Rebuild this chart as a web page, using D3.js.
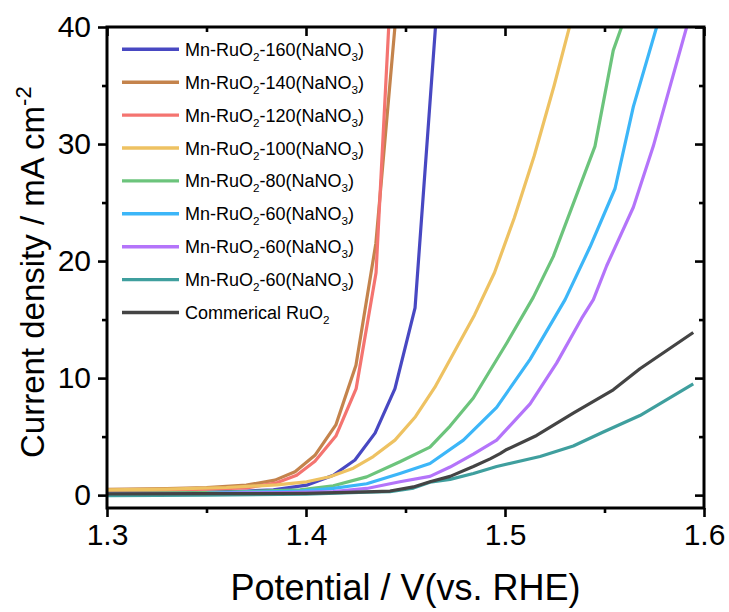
<!DOCTYPE html>
<html>
<head>
<meta charset="utf-8">
<script src="https://cdn.jsdelivr.net/npm/d3@7/dist/d3.min.js"></script>
<style>
  html, body { margin: 0; padding: 0; background: #ffffff; }
  svg { display: block; }
  text { font-family: "Liberation Sans", Arial, Helvetica, sans-serif; fill: #000; }
</style>
</head>
<body>
<script>
// ---------- data (potential V vs RHE, current density mA cm^-2) ----------
const mn160 = [[1.30,0.2],[1.34,0.22],[1.37,0.35],[1.3836,0.45],[1.4003,0.85],[1.4137,1.7],[1.4246,3.0],[1.4347,5.3],[1.4447,9.1],[1.4548,16.0],[1.4655,41.0]];
const mn140 = [[1.30,0.49],[1.33,0.55],[1.35,0.65],[1.37,0.85],[1.3844,1.28],[1.3945,2.0],[1.4045,3.4],[1.4150,6.0],[1.4251,11.1],[1.4351,21.5],[1.4451,40.8]];
const mn120 = [[1.30,0.36],[1.33,0.42],[1.35,0.5],[1.37,0.62],[1.3853,1.05],[1.3953,1.7],[1.4045,2.9],[1.4150,5.05],[1.4252,9.1],[1.4352,19.0],[1.4452,52.0]];
const mn100 = [[1.30,0.45],[1.33,0.52],[1.36,0.65],[1.3853,0.88],[1.4003,1.14],[1.412,1.57],[1.4238,2.3],[1.4338,3.3],[1.4447,4.7],[1.455,6.7],[1.4647,9.2],[1.4747,12.3],[1.4847,15.4],[1.4947,19.0],[1.5047,23.7],[1.5147,29.0],[1.5247,35.0],[1.5347,41.5]];
const mn80  = [[1.30,0.15],[1.35,0.22],[1.37,0.3],[1.397,0.45],[1.4137,0.8],[1.4305,1.56],[1.4472,2.85],[1.4623,4.1],[1.4724,5.9],[1.4841,8.3],[1.5009,13.0],[1.5142,16.9],[1.5243,20.4],[1.5452,29.8],[1.5544,38.0],[1.5640,42.6]];
const mn60a = [[1.30,0.1],[1.35,0.15],[1.37,0.25],[1.397,0.35],[1.4137,0.57],[1.4305,0.97],[1.4472,1.85],[1.4623,2.7],[1.4791,4.7],[1.4958,7.5],[1.5126,11.6],[1.5302,16.7],[1.5427,21.2],[1.5553,26.2],[1.5645,33.2],[1.5762,40.0],[1.5785,41.3]];
const mn60b = [[1.30,0.08],[1.35,0.12],[1.37,0.2],[1.39,0.22],[1.4137,0.3],[1.4305,0.57],[1.4472,1.14],[1.4623,1.6],[1.4724,2.4],[1.4841,3.5],[1.4958,4.7],[1.5126,7.8],[1.5260,11.3],[1.5385,15.1],[1.5444,16.7],[1.5511,19.6],[1.5645,24.6],[1.5745,29.8],[1.5829,34.9],[1.5913,40.0],[1.5940,41.5]];
const mn60c = [[1.30,-0.05],[1.35,0.0],[1.40,0.08],[1.4305,0.25],[1.4422,0.3],[1.454,0.6],[1.4623,1.1],[1.4724,1.35],[1.4841,1.85],[1.4958,2.45],[1.5176,3.3],[1.5343,4.2],[1.5494,5.4],[1.5678,6.8],[1.5946,9.5]];
const ruo2  = [[1.30,0.1],[1.35,0.12],[1.40,0.15],[1.4305,0.28],[1.4422,0.35],[1.454,0.7],[1.4623,1.14],[1.4724,1.6],[1.4841,2.45],[1.4925,3.1],[1.4975,3.55],[1.5009,3.9],[1.5159,5.1],[1.5343,7.0],[1.5544,9.0],[1.5678,10.8],[1.5946,13.9]];

const seriesData   = [mn160, mn140, mn120, mn100, mn80, mn60a, mn60b, mn60c, ruo2];
const seriesNames  = ["Mn-RuO_2-160(NaNO_3)", "Mn-RuO_2-140(NaNO_3)", "Mn-RuO_2-120(NaNO_3)",
                      "Mn-RuO_2-100(NaNO_3)", "Mn-RuO_2-80(NaNO_3)", "Mn-RuO_2-60(NaNO_3)",
                      "Mn-RuO_2-60(NaNO_3)", "Mn-RuO_2-60(NaNO_3)", "Commerical RuO_2"];
const seriesColors = ["#4848c2", "#c4834c", "#f47470", "#eec262", "#6cc47c", "#3cb6f8", "#b474fa", "#3f9f9e", "#444444"];

const xMajor = [1.3, 1.4, 1.5, 1.6];
const xMinor = [1.35, 1.45, 1.55];
const yMajor = [0, 10, 20, 30, 40];
const yMinor = [5, 15, 25, 35];
const xTitle = "Potential / V(vs. RHE)";
const yTitle = "Current density / mA cm";
const yTitleSup = "-2";

// ---------- layout ----------
const W = 729, H = 612;
const L = 107, R = 704, T = 27, B = 508;

const svg = d3.select("body").append("svg").attr("width", W).attr("height", H);

const x = d3.scaleLinear().domain([1.3, 1.6]).range([L, R]);
const y = d3.scaleLinear().domain([-1.1, 40]).range([B, T]);

svg.append("defs").append("clipPath").attr("id", "plotclip")
  .append("rect").attr("x", L).attr("y", T).attr("width", R - L).attr("height", B - T);

// ---------- curves ----------
const line = d3.line().x(d => x(d[0])).y(d => y(d[1]));
const gLines = svg.append("g").attr("clip-path", "url(#plotclip)");
seriesData.forEach((s, i) => {
  gLines.append("path").datum(s)
    .attr("d", line)
    .attr("fill", "none")
    .attr("stroke", seriesColors[i])
    .attr("stroke-width", 3.2)
    .attr("stroke-linejoin", "round");
});

// ---------- axes ----------
function styleAxis(g) {
  g.select(".domain").remove();
  g.selectAll(".tick line").attr("stroke", "#000").attr("stroke-width", 2.6);
  g.selectAll(".tick text").style("font-size", "30px").attr("fill", "#000");
}
svg.append("g").attr("transform", `translate(0,${B})`)
  .call(d3.axisBottom(x).tickValues(xMajor).tickSize(9).tickPadding(7).tickFormat(d3.format(".1f")))
  .call(styleAxis).attr("font-family", null);
svg.append("g").attr("transform", `translate(0,${B})`)
  .call(d3.axisBottom(x).tickValues(xMinor).tickSize(5).tickFormat(""))
  .call(styleAxis);
svg.append("g").attr("transform", `translate(0,${T})`)
  .call(d3.axisTop(x).tickValues(xMajor).tickSize(-9).tickFormat(""))
  .call(styleAxis);
svg.append("g").attr("transform", `translate(0,${T})`)
  .call(d3.axisTop(x).tickValues(xMinor).tickSize(-5).tickFormat(""))
  .call(styleAxis);
svg.append("g").attr("transform", `translate(${L},0)`)
  .call(d3.axisLeft(y).tickValues(yMajor).tickSize(9).tickPadding(7).tickFormat(d3.format("d")))
  .call(styleAxis).attr("font-family", null);
svg.append("g").attr("transform", `translate(${L},0)`)
  .call(d3.axisLeft(y).tickValues(yMinor).tickSize(5).tickFormat(""))
  .call(styleAxis);
svg.append("g").attr("transform", `translate(${R},0)`)
  .call(d3.axisRight(y).tickValues(yMajor).tickSize(-9).tickFormat(""))
  .call(styleAxis);
svg.append("g").attr("transform", `translate(${R},0)`)
  .call(d3.axisRight(y).tickValues(yMinor).tickSize(-5).tickFormat(""))
  .call(styleAxis);

// frame
svg.append("rect").attr("x", L).attr("y", T).attr("width", R - L).attr("height", B - T)
  .attr("fill", "none").attr("stroke", "#000").attr("stroke-width", 3);

// ---------- titles ----------
svg.append("text").attr("x", (L + R) / 2).attr("y", 600)
  .attr("text-anchor", "middle").style("font-size", "36px").text(xTitle);

const yt = svg.append("text").attr("transform", "translate(44,458) rotate(-90)")
  .attr("text-anchor", "start").style("font-size", "33px");
yt.append("tspan").text(yTitle);
yt.append("tspan").attr("dy", -13).style("font-size", "22px").text(yTitleSup);

// ---------- legend ----------
function richText(sel, str, size) {
  const parts = str.split(/(_\d)/);
  let shifted = false;
  parts.forEach(p => {
    if (!p) return;
    if (p.startsWith("_")) {
      sel.append("tspan").attr("dy", 5).style("font-size", (size * 0.65) + "px").text(p.slice(1));
      shifted = true;
    } else {
      sel.append("tspan").attr("dy", shifted ? -5 : 0).text(p);
      shifted = false;
    }
  });
}
const leg = svg.append("g");
seriesNames.forEach((name, i) => {
  const cy = 49.3 + i * 32.9;
  leg.append("line").attr("x1", 122).attr("x2", 179).attr("y1", cy).attr("y2", cy)
    .attr("stroke", seriesColors[i]).attr("stroke-width", 3.4);
  const t = leg.append("text").attr("x", 185).attr("y", cy + 6.5).style("font-size", "18px");
  richText(t, name, 18);
});
</script>
</body>
</html>
